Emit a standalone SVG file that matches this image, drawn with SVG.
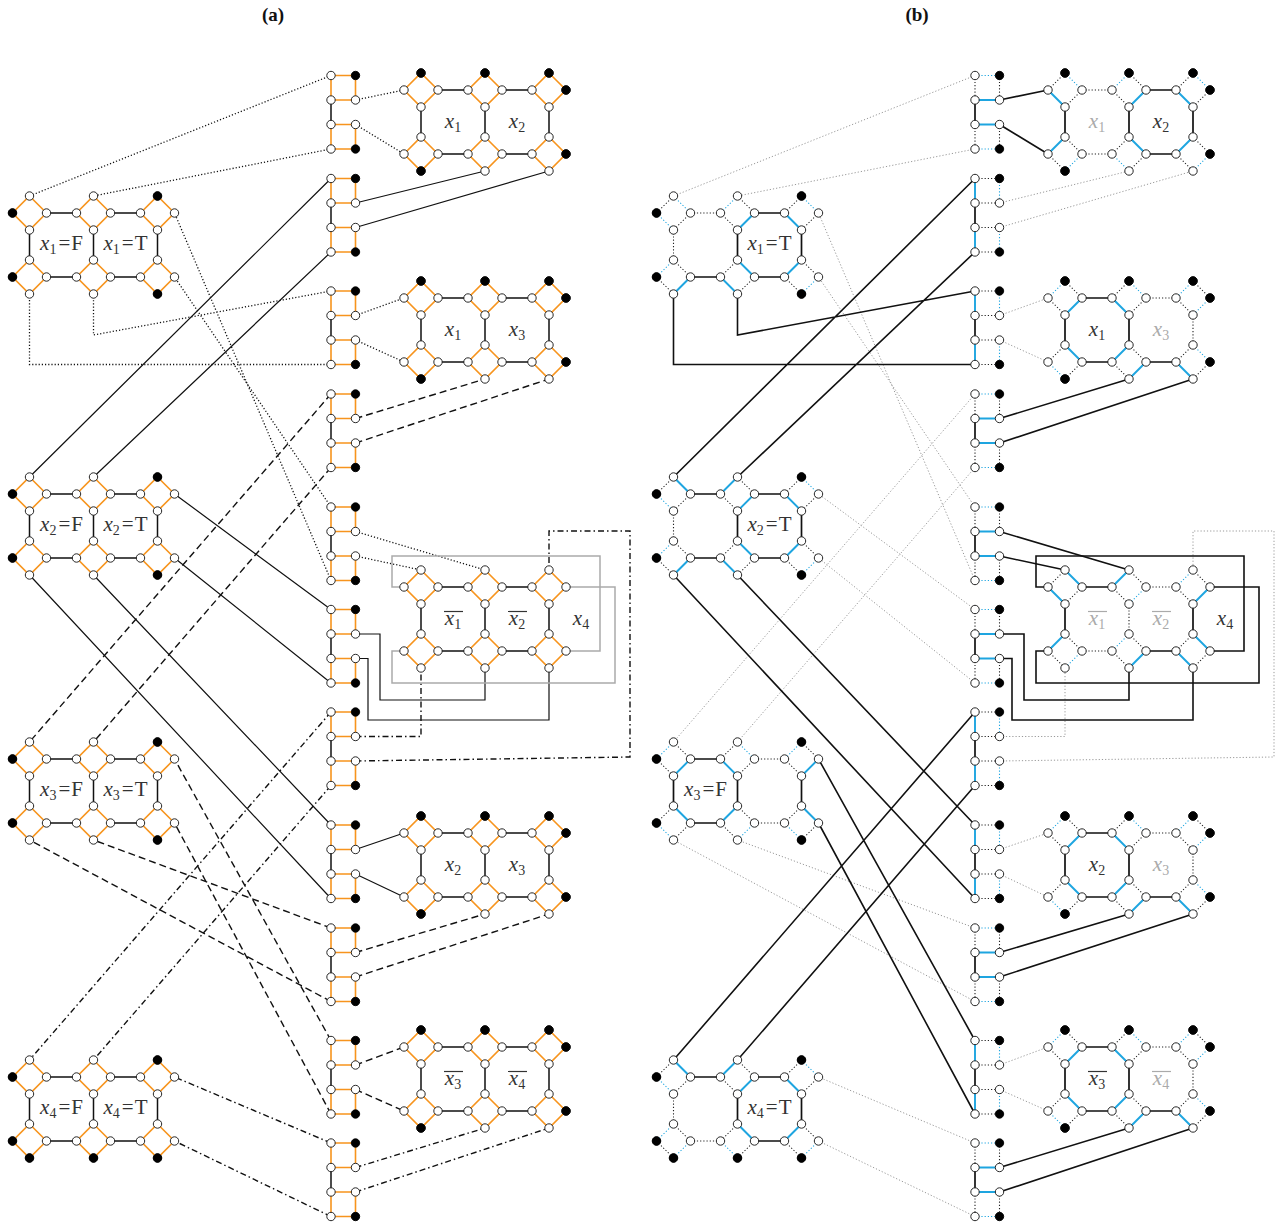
<svg xmlns="http://www.w3.org/2000/svg" xmlns:xlink="http://www.w3.org/1999/xlink" width="1278" height="1226" viewBox="0 0 1278 1226">
<style>
.o{stroke:#F7941D;stroke-width:1.6;fill:none}
.k{stroke:#111;stroke-width:1.7;fill:none}
.kd{stroke:#222;stroke-width:1.1;stroke-dasharray:1.2 2;fill:none}
.b{stroke:#1EA5E0;stroke-width:1.9;fill:none}
.bd{stroke:#1EA5E0;stroke-width:1.1;stroke-dasharray:1.2 2;fill:none}
.g{stroke:#999;stroke-width:1;stroke-dasharray:1.2 2;fill:none}
.cs{stroke:#111;stroke-width:1.2;fill:none}
.cd{stroke:#111;stroke-width:1.3;stroke-dasharray:1.2 2;fill:none}
.ce{stroke:#111;stroke-width:1.4;stroke-dasharray:7 4;fill:none}
.cc{stroke:#111;stroke-width:1.4;stroke-dasharray:6 3 1.5 3;fill:none}
.gr{stroke:#aaa;stroke-width:1.5;fill:none}
.w{fill:#fff;stroke:#111;stroke-width:0.9}
.f{fill:#000;stroke:#000;stroke-width:0.9}
.lb{font-family:"Liberation Serif",serif;font-size:21px;fill:#333}
.gl{fill:#aaa}
.i{font-style:italic}
.s{font-size:14px}
.t{font-family:"Liberation Serif",serif;font-size:19px;font-weight:bold;fill:#111}
.ol{stroke:#333;stroke-width:1.2}
.olg{stroke:#aaa;stroke-width:1.2}
</style>
<defs>
<g id="ga">
<path class="o" d="M0,-17L17,0L0,17L-17,0Z M64,-17L81,0L64,17L47,0Z M128,-17L145,0L128,17L111,0Z M0,47L17,64L0,81L-17,64Z M64,47L81,64L64,81L47,64Z M128,47L145,64L128,81L111,64Z"/>
<path class="k" style="stroke-width:1.5" d="M17,0H47M81,0H111M17,64H47M81,64H111M0,17V47M64,17V47M128,17V47"/>
</g>
<g id="gv">
<circle class="w" cx="0" cy="-17" r="4.2"/><circle class="w" cx="-17" cy="0" r="4.2"/><circle class="w" cx="17" cy="0" r="4.2"/><circle class="w" cx="0" cy="17" r="4.2"/>
<circle class="w" cx="64" cy="-17" r="4.2"/><circle class="w" cx="47" cy="0" r="4.2"/><circle class="w" cx="81" cy="0" r="4.2"/><circle class="w" cx="64" cy="17" r="4.2"/>
<circle class="w" cx="128" cy="-17" r="4.2"/><circle class="w" cx="111" cy="0" r="4.2"/><circle class="w" cx="145" cy="0" r="4.2"/><circle class="w" cx="128" cy="17" r="4.2"/>
<circle class="w" cx="0" cy="47" r="4.2"/><circle class="w" cx="-17" cy="64" r="4.2"/><circle class="w" cx="17" cy="64" r="4.2"/><circle class="w" cx="0" cy="81" r="4.2"/>
<circle class="w" cx="64" cy="47" r="4.2"/><circle class="w" cx="47" cy="64" r="4.2"/><circle class="w" cx="81" cy="64" r="4.2"/><circle class="w" cx="64" cy="81" r="4.2"/>
<circle class="w" cx="128" cy="47" r="4.2"/><circle class="w" cx="111" cy="64" r="4.2"/><circle class="w" cx="145" cy="64" r="4.2"/><circle class="w" cx="128" cy="81" r="4.2"/>
</g>
<g id="tv"><circle class="f" cx="-17" cy="0" r="4.2"/><circle class="f" cx="128" cy="-17" r="4.2"/><circle class="f" cx="-17" cy="64" r="4.2"/><circle class="f" cx="128" cy="81" r="4.2"/></g>
<g id="tv4"><circle class="f" cx="0" cy="81" r="4.2"/><circle class="f" cx="64" cy="81" r="4.2"/></g>
<g id="tc"><circle class="f" cx="0" cy="-17" r="4.2"/><circle class="f" cx="64" cy="-17" r="4.2"/><circle class="f" cx="128" cy="-17" r="4.2"/><circle class="f" cx="145" cy="0" r="4.2"/><circle class="f" cx="0" cy="81" r="4.2"/><circle class="f" cx="145" cy="64" r="4.2"/></g>
<g id="la"><path class="o" d="M0,0H24.5V24.5H0Z M0,49H24.5V73.5H0Z"/><path class="k" style="stroke-width:1.5" d="M0,24.5V49"/></g>
<g id="lv"><circle class="w" cx="0" cy="0" r="4.2"/><circle class="f" cx="24.5" cy="0" r="4.2"/><circle class="w" cx="0" cy="24.5" r="4.2"/><circle class="w" cx="24.5" cy="24.5" r="4.2"/><circle class="w" cx="0" cy="49" r="4.2"/><circle class="w" cx="24.5" cy="49" r="4.2"/><circle class="w" cx="0" cy="73.5" r="4.2"/><circle class="f" cx="24.5" cy="73.5" r="4.2"/></g>
<g id="LR"><path class="bd" d="M0,0H24.5M0,73.5H24.5"/><path class="kd" d="M0,0V24.5M24.5,0V24.5M0,49V73.5M24.5,49V73.5"/><path class="b" d="M0,24.5H24.5M0,49H24.5"/><path class="k" d="M0,24.5V49"/><use href="#lv"/></g>
<g id="LL"><path class="kd" d="M0,0H24.5M0,24.5H24.5M0,49H24.5M0,73.5H24.5"/><path class="b" d="M0,0V24.5M0,49V73.5"/><path class="bd" d="M24.5,0V24.5M24.5,49V73.5"/><path class="k" d="M0,24.5V49"/><use href="#lv"/></g>
<g id="A_ss"><path class="kd" d="M0,-17L-17,0M17,0L0,17"/><path class="b" d="M0,-17L17,0M-17,0L0,17"/></g>
<g id="A_TR"><path class="kd" d="M0,-17L-17,0M17,0L0,17"/><path class="b" d="M0,-17L17,0"/><path class="bd" d="M-17,0L0,17"/></g>
<g id="A_LB"><path class="kd" d="M0,-17L-17,0M17,0L0,17"/><path class="b" d="M-17,0L0,17"/><path class="bd" d="M0,-17L17,0"/></g>
<g id="A_dd"><path class="kd" d="M0,-17L-17,0M17,0L0,17"/><path class="bd" d="M0,-17L17,0M-17,0L0,17"/></g>
<g id="B_ss"><path class="kd" d="M0,-17L17,0M-17,0L0,17"/><path class="b" d="M0,-17L-17,0M17,0L0,17"/></g>
<g id="B_TL"><path class="kd" d="M0,-17L17,0M-17,0L0,17"/><path class="b" d="M0,-17L-17,0"/><path class="bd" d="M17,0L0,17"/></g>
<g id="B_RB"><path class="kd" d="M0,-17L17,0M-17,0L0,17"/><path class="b" d="M17,0L0,17"/><path class="bd" d="M0,-17L-17,0"/></g>
<g id="B_dd"><path class="kd" d="M0,-17L17,0M-17,0L0,17"/><path class="bd" d="M0,-17L-17,0M17,0L0,17"/></g>
<g id="PC">
<use href="#B_RB"/><use href="#A_LB" x="64"/><use href="#B_dd" x="128"/>
<use href="#A_TR" y="64"/><use href="#B_ss" x="64" y="64"/><use href="#A_LB" x="128" y="64"/>
<path class="k" d="M17,0H47M17,64H47M81,64H111M0,17V47M64,17V47"/>
<path class="kd" d="M81,0H111M128,17V47"/>
<use href="#gv"/><use href="#tc"/>
</g>
</defs>
<rect width="1278" height="1226" fill="#fff"/>
<text class="t" x="273" y="21" text-anchor="middle">(a)</text>
<text class="t" x="917" y="21" text-anchor="middle">(b)</text>

<g id="connectors-a">
<path class="cd" d="M331,75.5L29.5,196M331,149L93.5,196M355.5,100L404,90M355.5,124.5L404,154M331,291L93.5,335V294M331,364.5H29.5V294M355.5,315.5L404,298M355.5,340L404,362M331,507L174.5,277M331,580.5L174.5,213M355.5,531.5L485,570M355.5,556L421,570"/>
<path class="cs" d="M331,178.5L29.5,477M331,252L93.5,477M355.5,203L485,171M355.5,227.5L549,171M331,609.5L174.5,494M331,683L174.5,558M355.5,634H380V700H485V668M355.5,658.5H368V720H549V668M331,825L93.5,575M331,898.5L29.5,575M355.5,849.5L404,833M355.5,874L404,897"/>
<path class="ce" d="M331,394L29.5,742M331,467.5L93.5,742M355.5,418.5L485,379M355.5,443L549,379M331,928L93.5,840M331,1001.5L29.5,840M355.5,952.5L485,914M355.5,977L549,914M331,1040.5L174.5,759M331,1114L174.5,823M355.5,1065L404,1047M355.5,1089.5L404,1111"/>
<path class="cc" d="M331,712L29.5,1060M331,785.5L93.5,1060M355.5,736.5H421V668M355.5,761L630,757V531H549V570M331,1143L174.5,1077M331,1216.5L174.5,1141M355.5,1167.5L485,1128M355.5,1192L549,1128"/>
<path class="gr" d="M404,587H392V556H600V651H566M404,651H392V683H615V587H566"/>
</g>

<g id="connectors-b">
<path class="g" d="M975,75.5L673.5,196M975,149L737.5,196M999.5,203L1129,171M999.5,227.5L1193,171M999.5,315.5L1048,298M999.5,340L1048,362M975,394L673.5,742M975,467.5L737.5,742M975,507L818.5,277M975,580.5L818.5,213M975,609.5L818.5,494M975,683L818.5,558M999.5,736.5H1065V668M999.5,761L1274,757V531H1193V570M999.5,849.5L1048,833M999.5,874L1048,897M975,928L737.5,840M975,1001.5L673.5,840M999.5,1065L1048,1047M999.5,1089.5L1048,1111M975,1143L818.5,1077M975,1216.5L818.5,1141"/>
<path class="k" style="stroke-width:1.6" d="M999.5,100L1048,90M999.5,124.5L1048,154M975,178.5L673.5,477M975,252L737.5,477M975,291L737.5,335V294M975,364.5H673.5V294M999.5,418.5L1129,379M999.5,443L1193,379M999.5,531.5L1129,570M999.5,556L1065,570M999.5,634H1024V700H1129V668M999.5,658.5H1012V720H1193V668M975,712L673.5,1060M975,785.5L737.5,1060M975,825L737.5,575M975,898.5L673.5,575M999.5,952.5L1129,914M999.5,977L1193,914M975,1040.5L818.5,759M975,1114L818.5,823M999.5,1167.5L1129,1128M999.5,1192L1193,1128"/>
<path class="k" style="stroke-width:1.6" d="M1048,587H1036V556H1244V651H1210M1048,651H1036V683H1259V587H1210"/>
</g>

<!-- panel (a) ladders -->
<g id="a-L1"><use href="#la" x="331" y="75.5"/><use href="#lv" x="331" y="75.5"/></g>
<g id="a-L2"><use href="#la" x="331" y="178.5"/><use href="#lv" x="331" y="178.5"/></g>
<g id="a-L3"><use href="#la" x="331" y="291"/><use href="#lv" x="331" y="291"/></g>
<g id="a-L4"><use href="#la" x="331" y="394"/><use href="#lv" x="331" y="394"/></g>
<g id="a-L5"><use href="#la" x="331" y="507"/><use href="#lv" x="331" y="507"/></g>
<g id="a-L6"><use href="#la" x="331" y="609.5"/><use href="#lv" x="331" y="609.5"/></g>
<g id="a-L7"><use href="#la" x="331" y="712"/><use href="#lv" x="331" y="712"/></g>
<g id="a-L8"><use href="#la" x="331" y="825"/><use href="#lv" x="331" y="825"/></g>
<g id="a-L9"><use href="#la" x="331" y="928"/><use href="#lv" x="331" y="928"/></g>
<g id="a-L10"><use href="#la" x="331" y="1040.5"/><use href="#lv" x="331" y="1040.5"/></g>
<g id="a-L11"><use href="#la" x="331" y="1143"/><use href="#lv" x="331" y="1143"/></g>

<!-- panel (a) variable gadgets -->
<g id="a-x1" transform="translate(29.5,213)"><use href="#ga"/><use href="#gv"/><use href="#tv"/>
<text class="lb" x="32" y="37" text-anchor="middle"><tspan class="i">x</tspan><tspan class="s" dy="4">1</tspan><tspan dy="-4" dx="2">=</tspan><tspan dx="1">F</tspan></text>
<text class="lb" x="96" y="37" text-anchor="middle"><tspan class="i">x</tspan><tspan class="s" dy="4">1</tspan><tspan dy="-4" dx="2">=</tspan><tspan dx="1">T</tspan></text></g>
<g id="a-x2" transform="translate(29.5,494)"><use href="#ga"/><use href="#gv"/><use href="#tv"/>
<text class="lb" x="32" y="37" text-anchor="middle"><tspan class="i">x</tspan><tspan class="s" dy="4">2</tspan><tspan dy="-4" dx="2">=</tspan><tspan dx="1">F</tspan></text>
<text class="lb" x="96" y="37" text-anchor="middle"><tspan class="i">x</tspan><tspan class="s" dy="4">2</tspan><tspan dy="-4" dx="2">=</tspan><tspan dx="1">T</tspan></text></g>
<g id="a-x3" transform="translate(29.5,759)"><use href="#ga"/><use href="#gv"/><use href="#tv"/>
<text class="lb" x="32" y="37" text-anchor="middle"><tspan class="i">x</tspan><tspan class="s" dy="4">3</tspan><tspan dy="-4" dx="2">=</tspan><tspan dx="1">F</tspan></text>
<text class="lb" x="96" y="37" text-anchor="middle"><tspan class="i">x</tspan><tspan class="s" dy="4">3</tspan><tspan dy="-4" dx="2">=</tspan><tspan dx="1">T</tspan></text></g>
<g id="a-x4" transform="translate(29.5,1077)"><use href="#ga"/><use href="#gv"/><use href="#tv"/><use href="#tv4"/>
<text class="lb" x="32" y="37" text-anchor="middle"><tspan class="i">x</tspan><tspan class="s" dy="4">4</tspan><tspan dy="-4" dx="2">=</tspan><tspan dx="1">F</tspan></text>
<text class="lb" x="96" y="37" text-anchor="middle"><tspan class="i">x</tspan><tspan class="s" dy="4">4</tspan><tspan dy="-4" dx="2">=</tspan><tspan dx="1">T</tspan></text></g>

<!-- panel (a) clause gadgets -->
<g id="a-C1" transform="translate(421,90)"><use href="#ga"/><use href="#gv"/><use href="#tc"/>
<text class="lb" x="32" y="37.5" text-anchor="middle"><tspan class="i">x</tspan><tspan class="s" dy="4">1</tspan></text>
<text class="lb" x="96" y="37.5" text-anchor="middle"><tspan class="i">x</tspan><tspan class="s" dy="4">2</tspan></text></g>
<g id="a-C2" transform="translate(421,298)"><use href="#ga"/><use href="#gv"/><use href="#tc"/>
<text class="lb" x="32" y="37.5" text-anchor="middle"><tspan class="i">x</tspan><tspan class="s" dy="4">1</tspan></text>
<text class="lb" x="96" y="37.5" text-anchor="middle"><tspan class="i">x</tspan><tspan class="s" dy="4">3</tspan></text></g>
<g id="a-C3" transform="translate(421,587)"><use href="#ga"/><use href="#gv"/>
<text class="lb" x="32" y="37.5" text-anchor="middle"><tspan class="i">x</tspan><tspan class="s" dy="4">1</tspan></text><line class="ol" x1="23" y1="24.5" x2="42" y2="24.5"/>
<text class="lb" x="96" y="37.5" text-anchor="middle"><tspan class="i">x</tspan><tspan class="s" dy="4">2</tspan></text><line class="ol" x1="87" y1="24.5" x2="106" y2="24.5"/>
<text class="lb" x="160" y="37.5" text-anchor="middle"><tspan class="i">x</tspan><tspan class="s" dy="4">4</tspan></text></g>
<g id="a-C4" transform="translate(421,833)"><use href="#ga"/><use href="#gv"/><use href="#tc"/>
<text class="lb" x="32" y="37.5" text-anchor="middle"><tspan class="i">x</tspan><tspan class="s" dy="4">2</tspan></text>
<text class="lb" x="96" y="37.5" text-anchor="middle"><tspan class="i">x</tspan><tspan class="s" dy="4">3</tspan></text></g>
<g id="a-C5" transform="translate(421,1047)"><use href="#ga"/><use href="#gv"/><use href="#tc"/>
<text class="lb" x="32" y="37.5" text-anchor="middle"><tspan class="i">x</tspan><tspan class="s" dy="4">3</tspan></text><line class="ol" x1="23" y1="24.5" x2="42" y2="24.5"/>
<text class="lb" x="96" y="37.5" text-anchor="middle"><tspan class="i">x</tspan><tspan class="s" dy="4">4</tspan></text><line class="ol" x1="87" y1="24.5" x2="106" y2="24.5"/></g>

<!-- panel (b) ladders -->
<g id="b-L1"><use href="#LR" x="975" y="75.5"/></g>
<g id="b-L2"><use href="#LL" x="975" y="178.5"/></g>
<g id="b-L3"><use href="#LL" x="975" y="291"/></g>
<g id="b-L4"><use href="#LR" x="975" y="394"/></g>
<g id="b-L5"><use href="#LR" x="975" y="507"/></g>
<g id="b-L6"><use href="#LR" x="975" y="609.5"/></g>
<g id="b-L7"><use href="#LL" x="975" y="712"/></g>
<g id="b-L8"><use href="#LL" x="975" y="825"/></g>
<g id="b-L9"><use href="#LR" x="975" y="928"/></g>
<g id="b-L10"><use href="#LL" x="975" y="1040.5"/></g>
<g id="b-L11"><use href="#LR" x="975" y="1143"/></g>

<!-- panel (b) variable gadgets -->
<g id="b-x1" transform="translate(673.5,213)">
<use href="#A_dd"/><use href="#B_RB" x="64"/><use href="#A_LB" x="128"/>
<use href="#B_RB" y="64"/><use href="#A_ss" x="64" y="64"/><use href="#B_TL" x="128" y="64"/>
<path class="k" d="M81,0H111M17,64H47M81,64H111M64,17V47M128,17V47"/>
<path class="kd" d="M17,0H47M0,17V47"/>
<use href="#gv"/><use href="#tv"/>
<text class="lb" x="96" y="37" text-anchor="middle"><tspan class="i">x</tspan><tspan class="s" dy="4">1</tspan><tspan dy="-4" dx="2">=</tspan><tspan dx="1">T</tspan></text></g>
<g id="b-x2" transform="translate(673.5,494)">
<use href="#A_TR"/><use href="#B_ss" x="64"/><use href="#A_LB" x="128"/>
<use href="#B_RB" y="64"/><use href="#A_ss" x="64" y="64"/><use href="#B_TL" x="128" y="64"/>
<path class="k" d="M17,0H47M81,0H111M17,64H47M81,64H111M64,17V47M128,17V47"/>
<path class="kd" d="M0,17V47"/>
<use href="#gv"/><use href="#tv"/>
<text class="lb" x="96" y="37" text-anchor="middle"><tspan class="i">x</tspan><tspan class="s" dy="4">2</tspan><tspan dy="-4" dx="2">=</tspan><tspan dx="1">T</tspan></text></g>
<g id="b-x3" transform="translate(673.5,759)">
<use href="#B_RB"/><use href="#A_LB" x="64"/><use href="#B_RB" x="128"/>
<use href="#A_TR" y="64"/><use href="#B_TL" x="64" y="64"/><use href="#A_TR" x="128" y="64"/>
<path class="k" d="M17,0H47M17,64H47M0,17V47M64,17V47M128,17V47"/>
<path class="kd" d="M81,0H111M81,64H111"/>
<use href="#gv"/><use href="#tv"/>
<text class="lb" x="32" y="37" text-anchor="middle"><tspan class="i">x</tspan><tspan class="s" dy="4">3</tspan><tspan dy="-4" dx="2">=</tspan><tspan dx="1">F</tspan></text></g>
<g id="b-x4" transform="translate(673.5,1077)">
<use href="#A_TR"/><use href="#B_ss" x="64"/><use href="#A_LB" x="128"/>
<use href="#B_dd" y="64"/><use href="#A_TR" x="64" y="64"/><use href="#B_TL" x="128" y="64"/>
<path class="k" d="M17,0H47M81,0H111M81,64H111M64,17V47M128,17V47"/>
<path class="kd" d="M17,64H47M0,17V47"/>
<use href="#gv"/><use href="#tv"/><use href="#tv4"/>
<text class="lb" x="96" y="37" text-anchor="middle"><tspan class="i">x</tspan><tspan class="s" dy="4">4</tspan><tspan dy="-4" dx="2">=</tspan><tspan dx="1">T</tspan></text></g>

<!-- panel (b) clause gadgets -->
<g id="b-C1" transform="translate(1065,90)">
<use href="#A_LB"/><use href="#B_RB" x="64"/><use href="#A_LB" x="128"/>
<use href="#B_TL" y="64"/><use href="#A_TR" x="64" y="64"/><use href="#B_TL" x="128" y="64"/>
<path class="k" d="M81,0H111M81,64H111M0,17V47M64,17V47M128,17V47"/>
<path class="kd" d="M17,0H47M17,64H47"/>
<use href="#gv"/><use href="#tc"/>
<text class="lb gl" x="32" y="37.5" text-anchor="middle"><tspan class="i">x</tspan><tspan class="s" dy="4">1</tspan></text>
<text class="lb" x="96" y="37.5" text-anchor="middle"><tspan class="i">x</tspan><tspan class="s" dy="4">2</tspan></text></g>
<g id="b-C2" transform="translate(1065,298)"><use href="#PC"/>
<text class="lb" x="32" y="37.5" text-anchor="middle"><tspan class="i">x</tspan><tspan class="s" dy="4">1</tspan></text>
<text class="lb gl" x="96" y="37.5" text-anchor="middle"><tspan class="i">x</tspan><tspan class="s" dy="4">3</tspan></text></g>
<g id="b-C3" transform="translate(1065,587)">
<use href="#A_ss"/><use href="#B_TL" x="64"/><use href="#B_RB" x="128"/>
<use href="#B_TL" y="64"/><use href="#B_RB" x="64" y="64"/><use href="#A_ss" x="128" y="64"/>
<path class="k" d="M17,0H47M81,64H111M0,17V47M128,17V47"/>
<path class="kd" d="M81,0H111M17,64H47M64,17V47"/>
<use href="#gv"/>
<text class="lb gl" x="32" y="37.5" text-anchor="middle"><tspan class="i">x</tspan><tspan class="s" dy="4">1</tspan></text><line class="olg" x1="23" y1="24.5" x2="42" y2="24.5"/>
<text class="lb gl" x="96" y="37.5" text-anchor="middle"><tspan class="i">x</tspan><tspan class="s" dy="4">2</tspan></text><line class="olg" x1="87" y1="24.5" x2="106" y2="24.5"/>
<text class="lb" x="160" y="37.5" text-anchor="middle"><tspan class="i">x</tspan><tspan class="s" dy="4">4</tspan></text></g>
<g id="b-C4" transform="translate(1065,833)"><use href="#PC"/>
<text class="lb" x="32" y="37.5" text-anchor="middle"><tspan class="i">x</tspan><tspan class="s" dy="4">2</tspan></text>
<text class="lb gl" x="96" y="37.5" text-anchor="middle"><tspan class="i">x</tspan><tspan class="s" dy="4">3</tspan></text></g>
<g id="b-C5" transform="translate(1065,1047)"><use href="#PC"/>
<text class="lb" x="32" y="37.5" text-anchor="middle"><tspan class="i">x</tspan><tspan class="s" dy="4">3</tspan></text><line class="ol" x1="23" y1="24.5" x2="42" y2="24.5"/>
<text class="lb gl" x="96" y="37.5" text-anchor="middle"><tspan class="i">x</tspan><tspan class="s" dy="4">4</tspan></text><line class="olg" x1="87" y1="24.5" x2="106" y2="24.5"/></g>
</svg>
